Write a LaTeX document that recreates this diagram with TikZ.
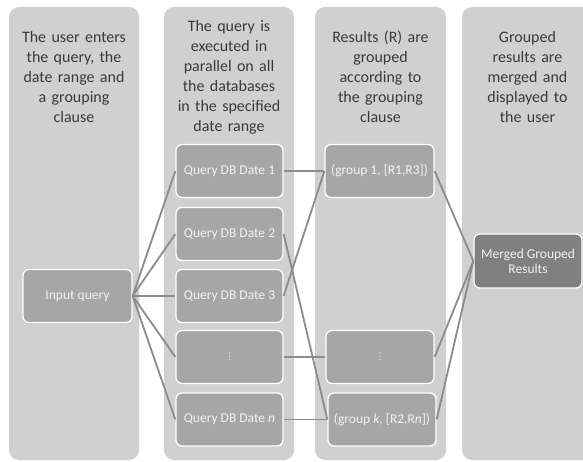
\documentclass[tikz,border=0pt]{standalone}
\usepackage{fontspec}
\setmainfont{Carlito}
\newfontfamily\dejavu{DejaVu Sans}
\definecolor{laneC}{RGB}{208,208,208}
\definecolor{boxC}{RGB}{166,166,166}
\definecolor{mergeC}{RGB}{128,128,128}
\definecolor{lineC}{RGB}{140,140,140}
\definecolor{headC}{RGB}{58,58,58}
\definecolor{boxtext}{RGB}{242,242,242}
\begin{document}
\begin{tikzpicture}[x=1pt,y=-1pt,
 lane/.style={fill=laneC, rounded corners=10pt},
 head/.style={text=headC, font=\fontsize{16}{20}\selectfont, align=center, text width=125pt, inner sep=0pt},
 box/.style={draw=white, line width=1.3pt, fill=boxC, rounded corners=6pt, minimum width=107pt, minimum height=53pt, text=boxtext, font=\fontsize{13.5}{15}\selectfont, inner sep=1pt, align=center},
 link/.style={draw=lineC, line width=1.8pt}]
\useasboundingbox (0,0) rectangle (583,462);
\clip (0,0) rectangle (583,462);
\fill[white] (0,0) rectangle (583,462);
\path[lane] (9,7) rectangle (139,460);
\path[lane] (164,7) rectangle (294,460);
\path[lane] (315,7) rectangle (446,460);
\path[lane] (462,7) rectangle (593,460);
\node[head] (h1) at (74,77) {The user enters\\the query, the\\date range and\\a grouping\\clause};
\node[head] (h2) at (229,77.5) {The query is\\executed in\\parallel on all\\the databases\\in the specified\\date range};
\node[head] (h3) at (380.5,77) {Results (R) are\\grouped\\according to\\the grouping\\clause};
\node[head] (h4) at (527.5,77) {Grouped\\results are\\merged and\\displayed to\\the user};
\node[box, minimum width=109pt] (in) at (77.5,296) {Input query};
\node[box] (q1) at (229.5,171) {Query DB Date 1};
\node[box] (q2) at (229.5,234) {Query DB Date 2};
\node[box] (q3) at (229.5,296) {Query DB Date 3};
\node[box] (qd) at (229.5,357) {\dejavu\fontsize{9}{9}\selectfont ⋮};
\node[box] (qn) at (229.5,419.5) {Query DB Date \textit{n}};
\node[box, minimum width=109pt] (g1) at (379.5,171) {(group 1, [R1,R3])};
\node[box, minimum width=108pt] (gd) at (380,357) {\dejavu\fontsize{9}{9}\selectfont ⋮};
\node[box, minimum width=108pt] (gk) at (382,419.5) {(group \textit{k}, [R2,R\textit{n}])};
\node[box, fill=mergeC, minimum width=108pt, minimum height=54pt] (m) at (528,261) {Merged Grouped\\Results};
\foreach \t in {q1,q2,q3,qd,qn} \draw[link] (in.east) -- (\t.west);
\draw[link] (q1.east) -- (g1.west);
\draw[link] (q2.east) -- (gk.west);
\draw[link] (q3.east) -- (g1.west);
\draw[link] (qd.east) -- (gd.west);
\draw[link] (qn.east) -- (gk.west);
\draw[link] (g1.east) -- (m.west);
\draw[link] (gd.east) -- (m.west);
\draw[link] (gk.east) -- (m.west);
\end{tikzpicture}
\end{document}
